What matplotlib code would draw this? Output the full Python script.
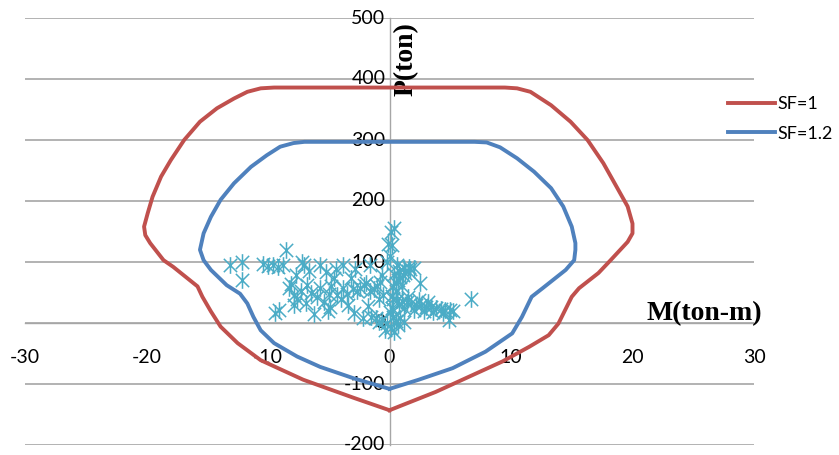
import matplotlib
matplotlib.use("Agg")
import matplotlib.pyplot as plt
from matplotlib.path import Path

# ---- data ----
sf1_m = [0, -2.9, -7.1, -10.6, -12.5, -13.9, -14.7, -15.4, -15.8, -17.8, -18.6, -19.7, -20.1,
         -20.2, -19.9, -19.5, -18.8, -18.0, -16.9, -15.6, -14.2, -12.8, -11.7, -10.6, -9.5,
         0, 9.5, 10.5, 11.6, 13.3, 14.9, 16.3, 17.6, 18.7, 19.6, 20.0, 20.0, 19.6, 18.2, 17.2,
         15.6, 15.0, 13.9, 13.1, 11.5, 9.3, 3.8, 0]
sf1_p = [-143, -123, -93, -61, -33, -6, 19, 43, 60, 92, 103, 131, 144,
         158, 180, 207, 240, 267, 300, 330, 352, 368, 379, 384.7, 386,
         386, 386, 384.7, 379, 357, 330, 300, 262, 223, 191, 163, 147, 133, 103, 82,
         57, 43, -1, -20, -39, -63, -113, -143]

sf12_m = [0, -2.9, -5.7, -7.6, -9.5, -10.6, -11.2, -11.7, -12.3, -13.4, -14.7, -15.3, -15.6,
          -15.3, -14.7, -13.9, -12.8, -11.4, -10.1, -9.0, -7.9, -7.0, 0, 7.0, 8.0, 9.1, 10.5,
          11.9, 13.3, 14.3, 15.0, 15.3, 15.3, 15.2, 14.5, 12.6, 11.7, 10.9, 10.1, 7.9, 5.2,
          2.4, 0]
sf12_p = [-108, -91, -72, -55, -33, -12, 10, 32, 48, 62, 87, 103, 120,
          147, 174, 202, 229, 256, 275, 289, 295, 297, 297, 297, 296, 288, 270,
          248, 221, 191, 158, 131, 120, 103, 87, 57, 43, 10, -17, -47, -74,
          -93, -108]

load_m = [-13.1, -12.1, -12.1, -10.4, -10.0, -9.6, -9.2, -8.8, -8.5, -9.4, -9.1, -7.2, -7.0,
          -8.3, -7.9, -7.3, -7.9, -7.6, -6.8, -6.2, -5.7, -5.7, -5.4, -5.1, -4.6, -4.3, -3.8,
          -3.2, -2.9, -2.65, -2.1, -1.6, -1.6, -1.15, -1.0, -0.5, -0.6, -6.5, -6.0, -5.0, -4.8,
          -4.0, -3.5, -3.0, -2.4, -1.9, -1.3, -0.8, -3.8, -4.4, -2.8, -7.7, -6.6, -5.2, -8.1,
          -6.9, -4.9, -3.4, -1.8, -0.9, -2.2, -1.5,
          0.35, 0.1, -0.1, 0.2, -0.2, 0.0,
          0.3, 0.5, 0.7, 0.9, 1.1, 1.3, 1.5, 1.7, 2.0, 0.4, 0.8, 1.2, 1.6, 0.6, 2.5, 1.0, 0.2, 0.5,
          0.3, 0.6, 1.0, 1.4, 1.8, 2.2, 2.6, 3.0, 3.4, 3.8, 4.2, 4.6, 5.0, 1.2, 2.0, 2.8, 3.6,
          4.4, 5.2, 4.9, 6.7, 1.5, 2.4, 3.2, 0.8,
          -0.6, -0.2, 0.1, 0.3, 0.5, 0.0, 0.7, -0.4, 0.2, 0.9, 1.2, -0.9, 0.4]
load_p = [95, 100, 71, 97, 93, 95, 92, 95, 119, 16, 22, 100, 95,
          57, 46, 52, 30, 40, 62, 14, 95, 57, 35, 19, 73, 46, 57,
          73, 16, 52, 62, 95, 52, 8, 60, 46, 79, 50, 42, 48, 60,
          40, 48, 55, 58, 65, 55, 67, 95, 88, 88, 78, 86, 83, 64,
          33, 27, 30, 28, 40, 8, 10,
          155, 150, 130, 128, 100, 110,
          60, 65, 70, 75, 78, 82, 85, 88, 90, 80, 85, 90, 92, 95, 65, 60, 45, 52,
          40, 38, 36, 34, 32, 30, 29, 27, 26, 24, 23, 22, 21, 25, 22, 20, 18,
          17, 19, 5, 40, 42, 38, 35, 30,
          5, 0, -8, 10, 3, 18, -3, -12, 25, 8, 2, 2, -15]

x_ticks = [-30, -20, -10, 0, 10, 20, 30]
y_ticks = [-200, -100, 0, 100, 200, 300, 400, 500]
series_names = ["SF=1", "SF=1.2"]

# ---- styling ----
RED = "#C0504D"
BLUE = "#4F81BD"
CYAN = "#4BACC6"
GRID = "#A6A6A6"

fig = plt.figure(figsize=(8.39, 4.55), dpi=100)
ax = fig.add_axes([25 / 839, 10 / 455, 729 / 839, 427 / 455])
ax.set_xlim(-30, 30)
ax.set_ylim(-200, 500)

star = Path([(-1, -1), (1, 1), (-1, 1), (1, -1), (0, -1.25), (0, 1.25)],
            [Path.MOVETO, Path.LINETO, Path.MOVETO, Path.LINETO, Path.MOVETO, Path.LINETO])

ax.plot(load_m, load_p, linestyle="none", marker=star, markersize=12,
        markerfacecolor="none", markeredgecolor=CYAN, markeredgewidth=1.1, zorder=3)
ax.plot(sf1_m, sf1_p, color=RED, lw=2.8, label=series_names[0], zorder=4,
        solid_joinstyle="round")
ax.plot(sf12_m, sf12_p, color=BLUE, lw=2.8, label=series_names[1], zorder=4,
        solid_joinstyle="round")

for s in ["top", "right"]:
    ax.spines[s].set_visible(False)
ax.spines["left"].set_position(("data", 0))
ax.spines["bottom"].set_position(("data", 0))
ax.spines["left"].set_color(GRID)
ax.spines["bottom"].set_color(GRID)
ax.spines["left"].set_linewidth(1.0)
ax.spines["bottom"].set_linewidth(1.0)

ax.set_xticks(x_ticks)
ax.set_yticks(y_ticks)
ax.yaxis.grid(True, color=GRID, lw=1.2)
ax.set_axisbelow(True)

tick_font = {"family": "Lato", "size": 14}
ax.set_xticklabels([str(v) for v in x_ticks], fontdict=tick_font)
ax.set_yticklabels([str(v) for v in y_ticks], fontdict=tick_font)
ax.tick_params(axis="x", length=0, pad=19)
ax.tick_params(axis="y", length=0, pad=3)
for lab in ax.get_yticklabels():
    lab.set_verticalalignment("center")

ax.text(1.35, 432, "P(ton)", rotation=90, ha="center", va="center",
        fontfamily="Liberation Serif", fontweight="bold", fontsize=20)
ax.text(25.9, 15, "M(ton-m)", ha="center", va="center",
        fontfamily="Liberation Serif", fontweight="bold", fontsize=20)

leg = fig.legend(loc="center left", bbox_to_anchor=(728 / 839, 1 - 119 / 455),
                 frameon=False, prop={"family": "Lato", "size": 13},
                 handlelength=2.6, handletextpad=0.15, labelspacing=0.75,
                 borderaxespad=0, borderpad=0)

fig.savefig("out.png", dpi=100)
